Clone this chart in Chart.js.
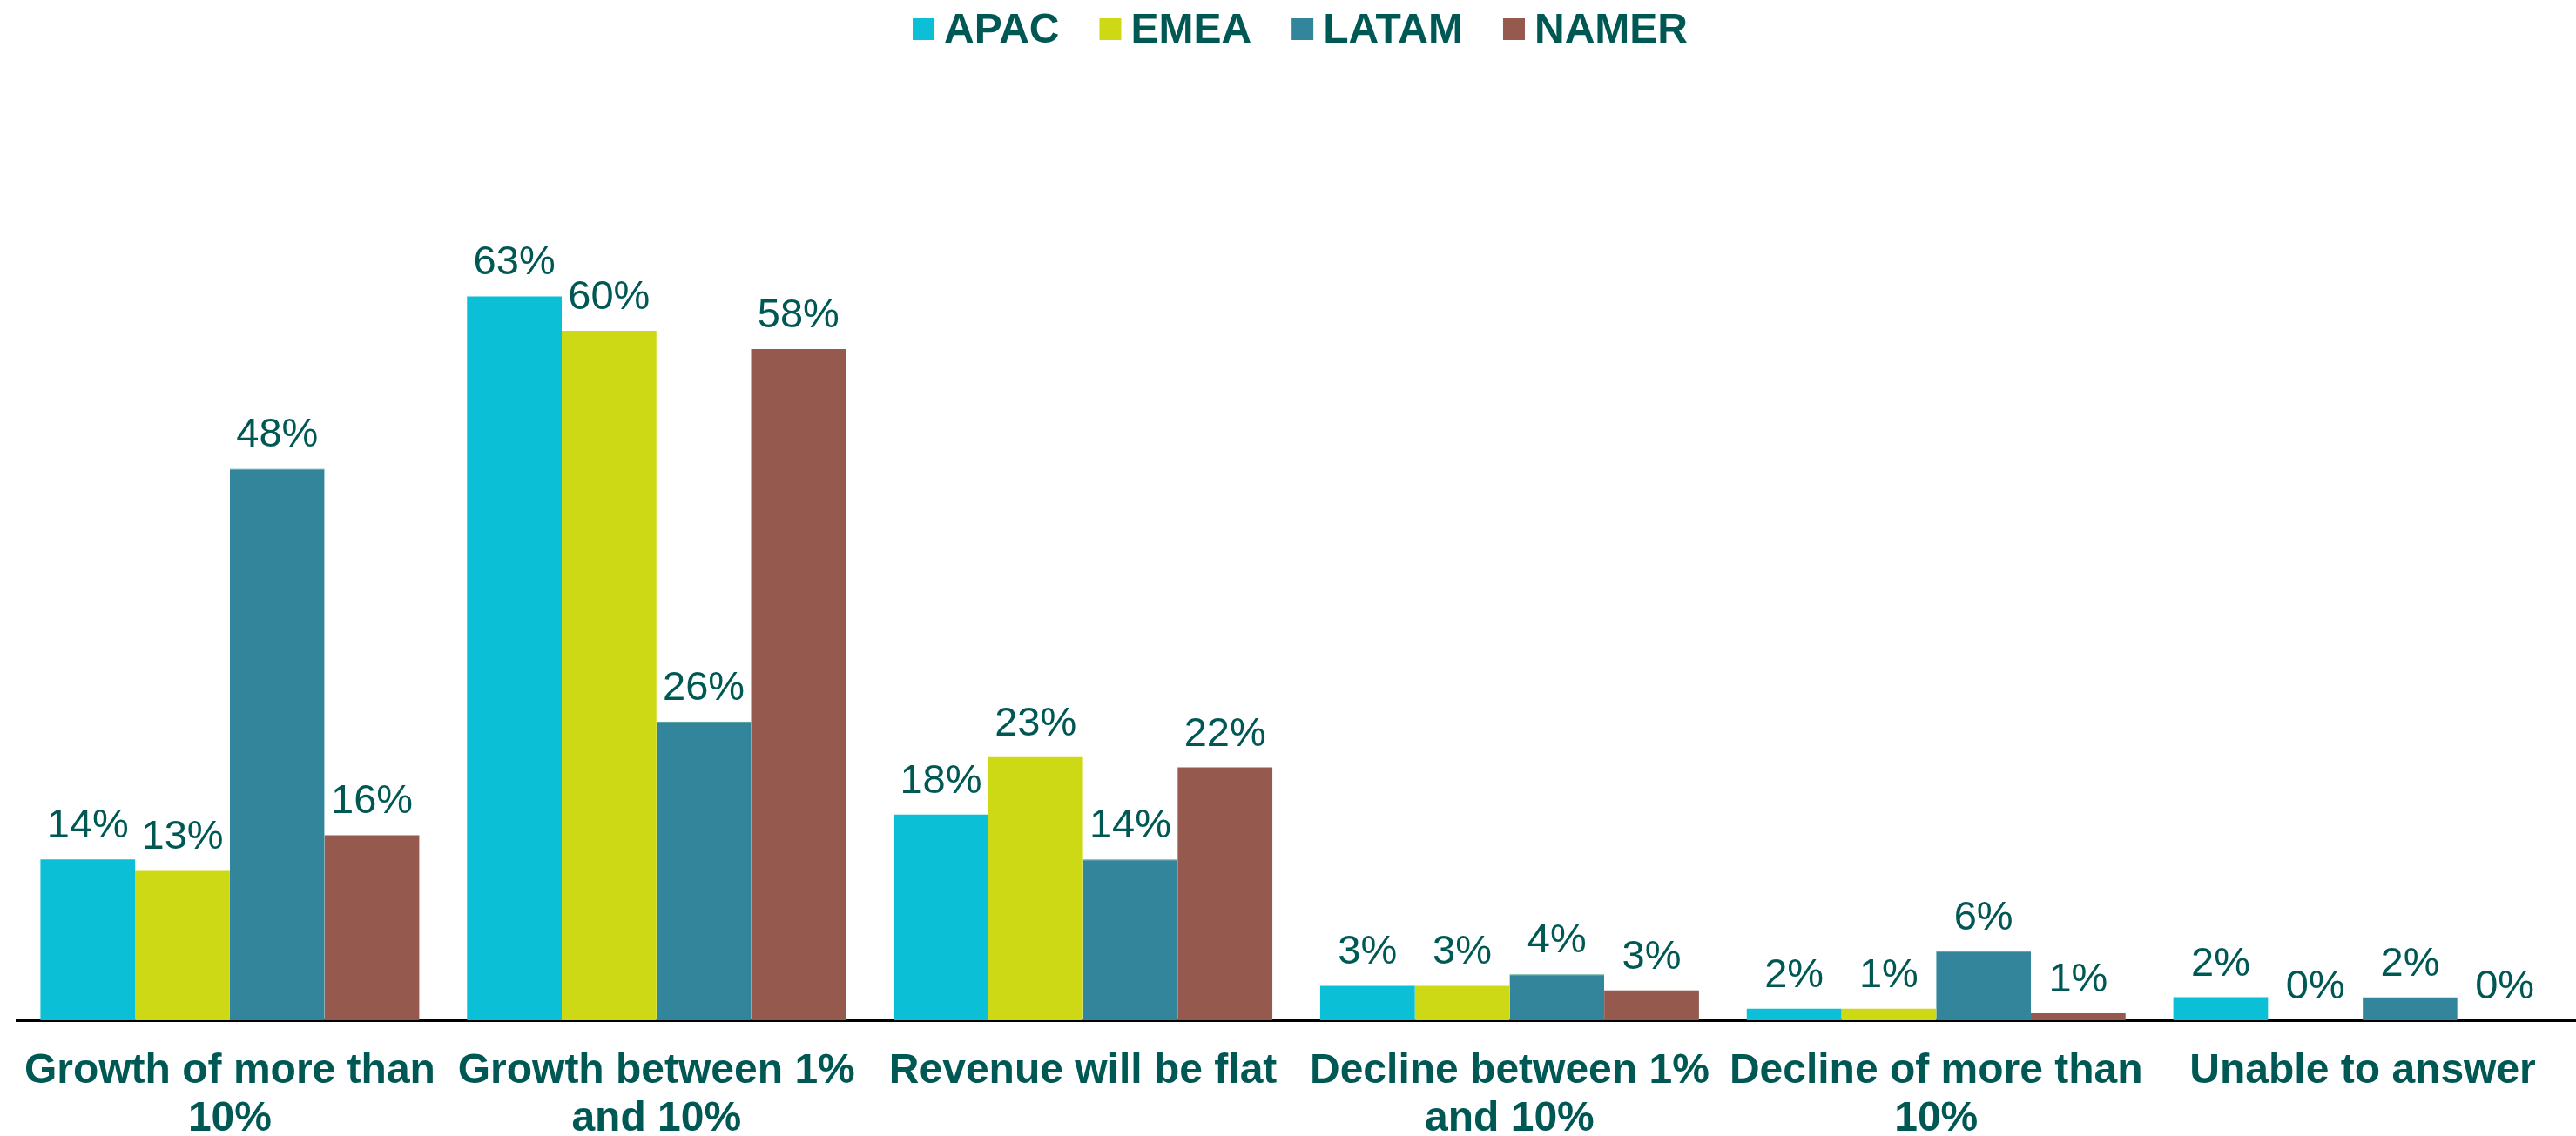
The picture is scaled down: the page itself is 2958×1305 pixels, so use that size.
<!DOCTYPE html>
<html>
<head>
<meta charset="utf-8">
<title>Revenue expectations by region</title>
<script src="https://cdn.jsdelivr.net/npm/chart.js"></script>
<style>
  html, body { margin: 0; padding: 0; background: #ffffff; }
  #wrap { width: 2958px; height: 1305px; }
</style>
</head>
<body>
<div id="wrap"><canvas id="myChart" width="2958" height="1305"></canvas></div>
<script>
// categories (multi-line labels as in the original)
var categories = [
  ["Growth of more than", "10%"],
  ["Growth between 1%", "and 10%"],
  ["Revenue will be flat"],
  ["Decline between 1%", "and 10%"],
  ["Decline of more than", "10%"],
  ["Unable to answer"]
];

// bar heights (%)
var apac  = [14, 63, 17.9, 3, 1, 2];
var emea  = [13, 60, 22.9, 3, 1, 0];
var latam = [48, 26, 14, 4, 6, 2];
var namer = [16.1, 58.4, 22, 2.6, 0.6, 0];

// data labels as printed on the chart
var apacLabels  = ["14%", "63%", "18%", "3%", "2%", "2%"];
var emeaLabels  = ["13%", "60%", "23%", "3%", "1%", "0%"];
var latamLabels = ["48%", "26%", "14%", "4%", "6%", "2%"];
var namerLabels = ["16%", "58%", "22%", "3%", "1%", "0%"];

var textColor = "#005854";

// labels on top of each bar
var barLabels = {
  id: "barLabels",
  afterDatasetsDraw: function (chart) {
    var ctx = chart.ctx;
    ctx.save();
    ctx.font = "47px 'Liberation Sans', Arial, sans-serif";
    ctx.fillStyle = textColor;
    ctx.textAlign = "center";
    ctx.textBaseline = "alphabetic";
    chart.data.datasets.forEach(function (ds, i) {
      var meta = chart.getDatasetMeta(i);
      meta.data.forEach(function (bar, j) {
        ctx.fillText(ds.labels[j], bar.x, bar.y - 25);
      });
    });
    ctx.restore();
  }
};

// legend drawn by hand so the box/text spacing matches
var topLegend = {
  id: "topLegend",
  afterDraw: function (chart) {
    var ctx = chart.ctx;
    var box = 25, gap = 11, itemGap = 46;
    ctx.save();
    ctx.font = "bold 48px 'Liberation Sans', Arial, sans-serif";
    var total = 0;
    chart.data.datasets.forEach(function (ds, i) {
      total += box + gap + ctx.measureText(ds.label).width;
      if (i > 0) total += itemGap;
    });
    var x = 1493 - total / 2;
    chart.data.datasets.forEach(function (ds) {
      ctx.fillStyle = ds.backgroundColor;
      ctx.fillRect(x, 21, box, box);
      x += box + gap;
      ctx.fillStyle = textColor;
      ctx.textBaseline = "alphabetic";
      ctx.fillText(ds.label, x, 49);
      x += ctx.measureText(ds.label).width + itemGap;
    });
    ctx.restore();
  }
};

var myChart = document.getElementById("myChart").getContext("2d");
var chart = new Chart(myChart, {
  type: "bar",
  data: {
    labels: categories,
    datasets: [
      { label: "APAC", data: apac, labels: apacLabels, backgroundColor: "#0BBFD6" },
      { label: "EMEA", data: emea, labels: emeaLabels, backgroundColor: "#CDD915" },
      { label: "LATAM", data: latam, labels: latamLabels, backgroundColor: "#32859B",
        borderColor: "#3f9c8c", borderWidth: { top: 1, left: 0, right: 0, bottom: 0 } },
      { label: "NAMER", data: namer, labels: namerLabels, backgroundColor: "#95594E" }
    ]
  },
  options: {
    responsive: false,
    devicePixelRatio: 1,
    animation: false,
    categoryPercentage: 0.888,
    barPercentage: 1,
    layout: { padding: { top: 248, left: 19, right: 0, bottom: 0 } },
    plugins: {
      legend: { display: false },
      tooltip: { enabled: false }
    },
    scales: {
      x: {
        z: 1,
        grid: { display: false, drawTicks: false },
        border: { display: true, color: "#000000", width: 3 },
        ticks: {
          color: textColor,
          font: { family: "'Liberation Sans', Arial, sans-serif", size: 48, weight: "bold", lineHeight: 1.145 },
          padding: 31,
          maxRotation: 0,
          autoSkip: false
        },
        afterFit: function (scale) {
          scale.height = 133;
          // labels fit inside their categories, no extra side padding
          scale.paddingLeft = 0;
          scale.paddingRight = 0;
        }
      },
      y: {
        display: false,
        min: 0,
        max: 70
      }
    }
  },
  plugins: [barLabels, topLegend]
});
</script>
</body>
</html>
